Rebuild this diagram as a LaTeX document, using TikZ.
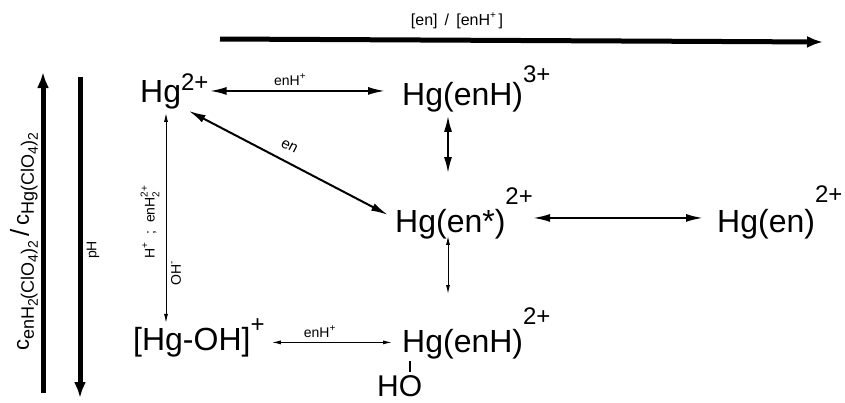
\documentclass[tikz,border=0pt]{standalone}
\usepackage{fontspec}
\setmainfont{Liberation Sans}
\usetikzlibrary{arrows.meta,calc}
\newcommand{\chg}[2][28pt]{\raisebox{#1}{\fontsize{24}{24}\selectfont #2}}
\newcommand{\sm}[1]{\raisebox{0.45em}{\fontsize{10}{10}\selectfont #1}}
\newcommand{\cs}[1]{\raisebox{-5pt}{\fontsize{18}{18}\selectfont #1}}
\newcommand{\css}[1]{\raisebox{-4pt}{\fontsize{14}{14}\selectfont #1}}
\newcommand{\subsup}[2]{\makebox[0pt][l]{\raisebox{-0.35em}{\fontsize{10}{10}\selectfont #1}}\raisebox{0.5em}{\fontsize{10}{10}\selectfont #2}}
\tikzset{
  species/.style={inner sep=0pt, anchor=base west, font=\fontsize{32}{34}\selectfont},
  lbl/.style={font=\fontsize{14}{15}\selectfont, inner sep=1pt},
  trend/.style={line width=5pt, -{Latex[length=16pt,width=12pt]}},
  eqbig/.style={line width=2pt, {Latex[length=17pt,width=8pt]}-{Latex[length=17pt,width=8pt]}},
  eqthin/.style={line width=1pt, {Latex[length=9pt,width=4pt]}-{Latex[length=9pt,width=4pt]}},
}

\begin{document}
\begin{tikzpicture}[x=1pt, y=-1pt]
  \useasboundingbox (0,0) rectangle (845,402);
  % species
  \node[species] (hg) at (140,102) {Hg\chg[12pt]{2+}};
  \node[species] (hgenh3) at (402,105) {Hg(enH)\chg[23pt]{3+}};
  \node[species] (hgens) at (395,232) {Hg(en*)\chg{2+}};
  \node[species] (hgen) at (717,232) {Hg(en)\chg[30pt]{2+}};
  \node[species] (hgoh) at (133,350) {[Hg-OH]\chg[18pt]{+}};
  \node[species] (hgenh2) at (402,352) {Hg(enH)\chg{2+}};
  \node[species, font=\fontsize{30}{32}\selectfont] (ho) at (377,396) {HO};
  \coordinate (colA) at (166,0);
  \coordinate (colB) at (448,0);

  % trend arrows
  \coordinate (enL) at (220,39);
  \coordinate (enR) at (823,42);
  \draw[trend] (enL) -- (enR);
  \node[lbl, font=\fontsize{16}{17}\selectfont] (ratio) at (457,21) {[en]\, /\, [enH\sm{+}\,]};
  \coordinate (cB) at (43,393);
  \coordinate (cT) at (43,72);
  \draw[trend] (cB) -- (cT);
  \node[lbl, rotate=90] (cratio) at (24,242) {{\fontsize{22}{22}\selectfont c}\cs{enH\css{2}(ClO\css{4})\css{2}} {\fontsize{26}{26}\selectfont /} {\fontsize{22}{22}\selectfont c}\cs{Hg(ClO\css{4})\css{2}}};
  \coordinate (pT) at (80,77);
  \coordinate (pB) at (80,398);
  \draw[trend] (pT) -- (pB);
  \node[lbl, rotate=90] (ph) at (93,250) {pH};

  % equilibria
  \draw[eqbig, shorten <=1pt, shorten >=17pt] (hg.east) -- (hg.east -| hgenh3.west) node[lbl, pos=0.42, above=3pt] {enH\sm{+}};
  \draw[eqbig] ([xshift=-20pt,yshift=-2pt]hg.south east) -- node[lbl, sloped, above=9pt, pos=0.47, font=\fontsize{15}{16}\selectfont] {en} ([xshift=-7pt,yshift=-2pt]hgens.west);
  \draw[eqbig, line width=2.5pt, shorten <=3pt, shorten >=13pt] (hgenh3.south -| colB) -- (hgens.north -| colB);
  \draw[eqbig, shorten <=0pt, shorten >=14pt] ([yshift=-5pt]hgens.east) -- ([yshift=-5pt]hgens.east -| hgen.west);
  \draw[eqthin, shorten <=-3pt, shorten >=13pt] (hgens.south -| colB) -- (hgenh2.north -| colB);
  \draw[eqthin, shorten <=7pt, shorten >=10pt] ([yshift=-5pt]hgoh.east) -- ([yshift=-5pt]hgoh.east -| hgenh2.west) node[lbl, pos=0.4, above=3pt] {enH\sm{+}};
  \draw[eqthin, shorten <=4pt, shorten >=-5pt] (hg.south -| colA) -- (hgoh.north -| colA);
  \node[lbl, rotate=90] (acid) at (150,222) {H\sm{+}\; ;\; enH\subsup{2}{2+}};
  \node[lbl, rotate=90] (base) at (176,273) {OH\sm{-}};
  \draw[line width=1.5pt] ([xshift=8pt,yshift=-2pt]hgenh2.south west) -- ([xshift=33pt,yshift=3pt]ho.north west);
\end{tikzpicture}
\end{document}
